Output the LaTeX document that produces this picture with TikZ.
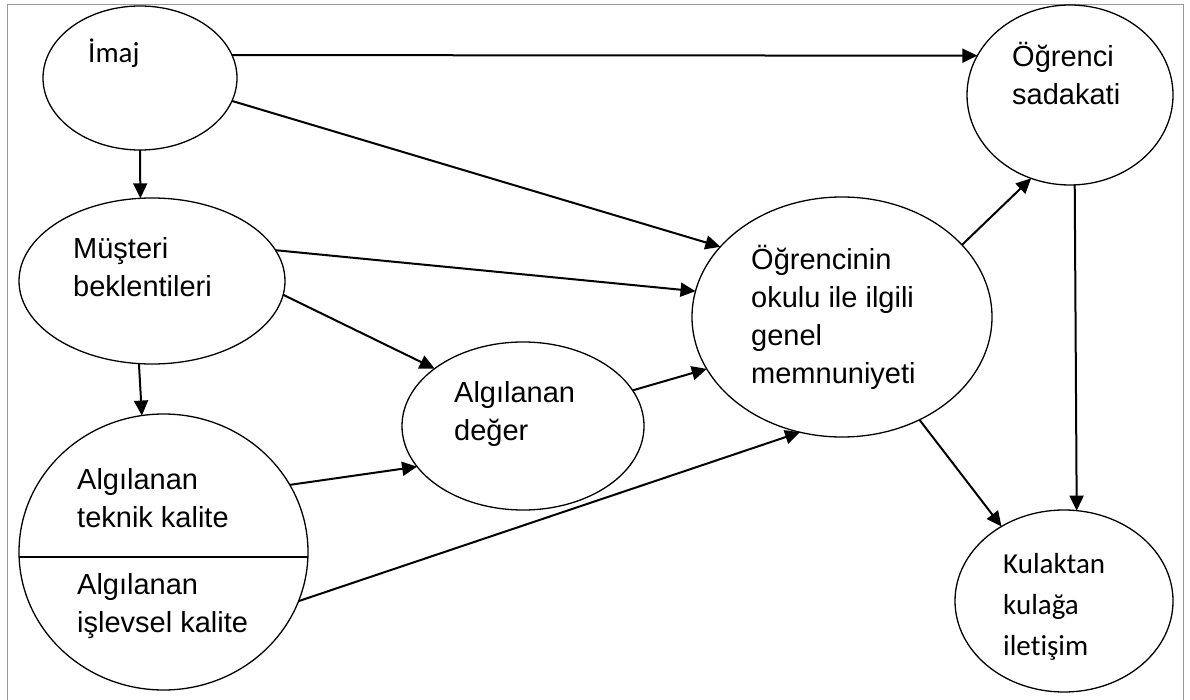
\documentclass[tikz,border=0pt]{standalone}
\usepackage{fontspec}
\setmainfont{Liberation Sans}
\newfontfamily\calibri[Ligatures=NoCommon]{Carlito}
\usetikzlibrary{shapes.geometric, arrows.meta}

\begin{document}
\begin{tikzpicture}[
        x=1pt, y=-1pt,
        >={Triangle[length=15pt, width=14pt]}, % filled arrow heads
        oval/.style={draw, ellipse, line width=1.3pt, inner sep=0pt, outer sep=0pt},
        % labels are placed at the baseline of their last line
        txt/.style={anchor=base west, align=left, inner sep=0pt, font=\fontsize{29}{38}\selectfont},
        % the two Calibri labels
        ctxt/.style={anchor=base west, align=left, inner sep=0pt, font=\calibri\fontsize{29}{41}\selectfont},
        link/.style={->, line width=2pt}
    ]

    \useasboundingbox (0,0) rectangle (1190,700);

    % --- Frame ---
    \draw[gray!80, line width=1pt] (7,702) -- (7,5) -- (1183,5) -- (1183,702);

    % --- Ellipses ---
    \node[oval, minimum width=194pt, minimum height=144pt] (imaj) at (140,78) {};
    \node[oval, minimum width=206pt, minimum height=180pt] (sadakat) at (1070,95) {};
    \node[oval, minimum width=266pt, minimum height=166pt] (musteri) at (152,281) {};
    \node[oval, minimum width=242pt, minimum height=168pt] (deger) at (523,426) {};
    \node[oval, minimum width=300pt, minimum height=240pt] (memnun) at (842,317) {};
    \node[oval, minimum width=289pt, minimum height=276pt] (kalite) at (163.5,552) {};
    \node[oval, minimum width=218pt, minimum height=182pt] (kulak) at (1064,601) {};
    \draw[line width=1.3pt] (kalite.182.8) -- (kalite.-2.8); % splits the circle

    % --- Labels ---
    \node[ctxt] (imajtxt) at (88,63) {İmaj};
    \node[txt] (sadakattxt) at (1012,105) {Öğrenci\\sadakati};
    \node[txt] (musteritxt) at (73,297) {Müşteri\\beklentileri};
    \node[txt] (degertxt) at (454,440) {Algılanan\\değer};
    \node[txt] (memnuntxt) at (751,383) {Öğrencinin\\okulu ile ilgili\\genel\\memnuniyeti};
    \node[txt] (teknik) at (77,527) {Algılanan\\teknik kalite};
    \node[txt] (islevsel) at (77,632) {Algılanan\\işlevsel kalite};
    \node[ctxt] (kulaktxt) at (1003,655) {Kulaktan\\kulağa\\iletişim};

    % --- Arrows ---
    \draw[link] (imaj.14.7) -- (sadakat.157.6);
    \draw[link] (imaj.-14.2) -- (memnun.150.5);
    \draw[link] (imaj.south) -- (musteri.98.3);
    \draw[link] (musteri.14.5) -- (memnun.170.7);
    \draw[link] (musteri.-6) -- (deger.147.6);
    \draw[link] (musteri.261.7) -- (kalite.99.8);
    \draw[link] (kalite.28.5) -- (deger.201);
    \draw[link] (kalite.-20.5) -- (memnun.250.7);
    \draw[link] (deger.18.1) -- (memnun.201.9);
    \draw[link] (memnun.31.3) -- (sadakat.245);
    \draw[link] (memnun.-53.5) -- (kulak.130.3);
    \draw[link] (sadakat.273.8) -- (kulak.82.4);

\end{tikzpicture}
\end{document}
